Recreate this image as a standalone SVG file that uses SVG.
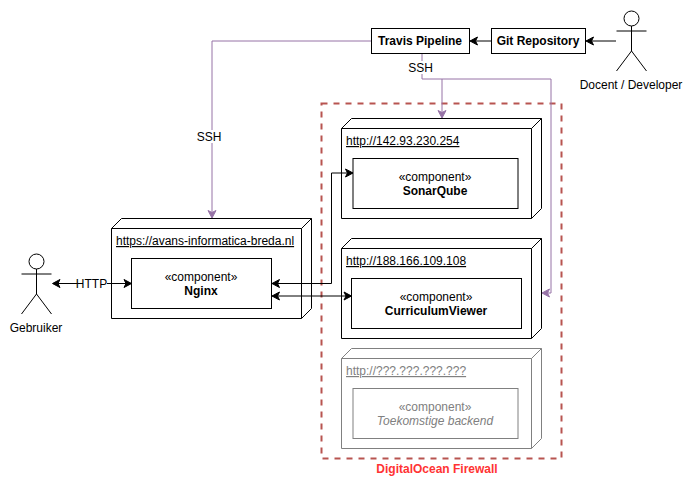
<svg xmlns="http://www.w3.org/2000/svg" width="693" height="489" viewBox="0 0 693 489">
<defs>
<marker id="blk" viewBox="-1 -1 10 10" refX="7" refY="4" markerWidth="10" markerHeight="10" markerUnits="userSpaceOnUse" orient="auto-start-reverse"><path d="M0 0L7.500 4L0 8L2 4Z" fill="#000" stroke="#000" stroke-width="1"/></marker>
<marker id="pur" viewBox="-1 -1 10 10" refX="7" refY="4" markerWidth="10" markerHeight="10" markerUnits="userSpaceOnUse" orient="auto-start-reverse"><path d="M0 0L7.500 4L0 8L2 4Z" fill="#9673a6" stroke="#9673a6" stroke-width="1"/></marker>
</defs>
<style>
text{font-family:"Liberation Sans",Arial,sans-serif;font-size:12px;fill:#000}
.m{text-anchor:middle}
.b{font-weight:bold}
.u{text-decoration:underline}
.s{fill:#fff;stroke:#000;stroke-width:1}
.n{fill:none;stroke:#000;stroke-width:1}
.g .s{stroke:#808080}
.g .n{stroke:#808080}
.g text{fill:#808080}
.c{fill:none;stroke:#000;stroke-width:1;marker-end:url(#blk)}
.p{fill:none;stroke:#9673a6;stroke-width:1;marker-end:url(#pur)}
.lb{fill:#fff;stroke:none}
</style>
<rect width="693" height="489" fill="#fff"/>
<g id="firewall">
<rect x="321.500" y="103.500" width="240" height="355" fill="none" stroke="#b85450" stroke-width="2" stroke-dasharray="6 6"/>
<text class="m b" x="437" y="473" style="fill:#ff3333">DigitalOcean Firewall</text>
</g>
<g id="node-sonarqube">
<path class="s" d="M341.500 128.500L351.500 118.500H541.500V208.500L531.500 218.500H341.500Z"/>
<path class="n" d="M341.500 128.500H531.500V218.500M531.500 128.500L541.500 118.500"/>
<text class="u" x="346" y="145">http://142.93.230.254</text>
<rect class="s" x="353" y="158.500" width="165" height="50"/>
<text class="m" x="435" y="181">«component»</text>
<text class="m b" x="435" y="195">SonarQube</text>
</g>
<g id="node-curriculumviewer">
<path class="s" d="M341.500 248.500L351.500 238.500H541.500V328.500L531.500 338.500H341.500Z"/>
<path class="n" d="M341.500 248.500H531.500V338.500M531.500 248.500L541.500 238.500"/>
<text class="u" x="346" y="265">http://188.166.109.108</text>
<rect class="s" x="351.500" y="278.500" width="170" height="50"/>
<text class="m" x="436" y="301">«component»</text>
<text class="m b" x="436" y="315">CurriculumViewer</text>
</g>
<g id="node-future" class="g">
<path class="s" d="M341.500 358.500L351.500 348.500H541.500V438.500L531.500 448.500H341.500Z"/>
<path class="n" d="M341.500 358.500H531.500V448.500M531.500 358.500L541.500 348.500"/>
<text class="u" x="346" y="375">http://???.???.???.???</text>
<rect class="s" x="353" y="388.500" width="165" height="50"/>
<text class="m" x="435" y="411">«component»</text>
<text class="m" x="435" y="425" font-style="italic">Toekomstige backend</text>
</g>
<g id="node-nginx">
<path class="s" d="M111.500 228.500L121.500 218.500H311.500V308.500L301.500 318.500H111.500Z"/>
<path class="n" d="M111.500 228.500H301.500V318.500M301.500 228.500L311.500 218.500"/>
<text class="u" x="116" y="245">https://avans-informatica-breda.nl</text>
<rect class="s" x="131.500" y="258.500" width="140" height="50"/>
<text class="m" x="201" y="281">«component»</text>
<text class="m b" x="201" y="295">Nginx</text>
</g>
<g id="node-travis">
<rect class="s" x="371.500" y="28.500" width="98" height="25"/>
<text class="m b" x="420" y="45">Travis Pipeline</text>
</g>
<g id="node-git">
<rect class="s" x="491.500" y="28.500" width="94" height="25"/>
<text class="m b" x="538" y="45">Git Repository</text>
</g>
<g id="actor-docent">
<circle class="n" cx="631.500" cy="18.500" r="7.500"/>
<path class="n" d="M631.500 26V51M616.500 31H646.500M616.500 71L631.500 51L646.500 71"/>
<text class="m" x="631" y="89">Docent / Developer</text>
</g>
<g id="actor-gebruiker">
<circle class="n" cx="36.500" cy="261.500" r="7.500"/>
<path class="n" d="M36.500 269V294M21.500 274H51.500M21.500 314L36.500 294L51.500 314"/>
<text class="m" x="36" y="332">Gebruiker</text>
</g>
<g id="connectors">
<path class="c" d="M616 41H586.500"/>
<path class="c" d="M491 41H470.500"/>
<path class="p" d="M371 41H212V217.500"/>
<path class="p" d="M422 54V79H442V117.500"/>
<path class="p" d="M442 79H551V293H542.500"/>
<path class="c" d="M272.500 283.500H331.500V173H352.500" marker-start="url(#blk)"/>
<path class="c" d="M272.500 296H351" marker-start="url(#blk)"/>
<path class="c" d="M53 283.500H131" marker-start="url(#blk)"/>
<rect class="lb" x="77" y="277" width="30" height="13"/>
<text class="m" x="91.500" y="288">HTTP</text>
<rect class="lb" x="408" y="61" width="25" height="13"/>
<text class="m" x="420.500" y="72">SSH</text>
<rect class="lb" x="197" y="130" width="25" height="13"/>
<text class="m" x="209" y="141">SSH</text>
</g>
</svg>
